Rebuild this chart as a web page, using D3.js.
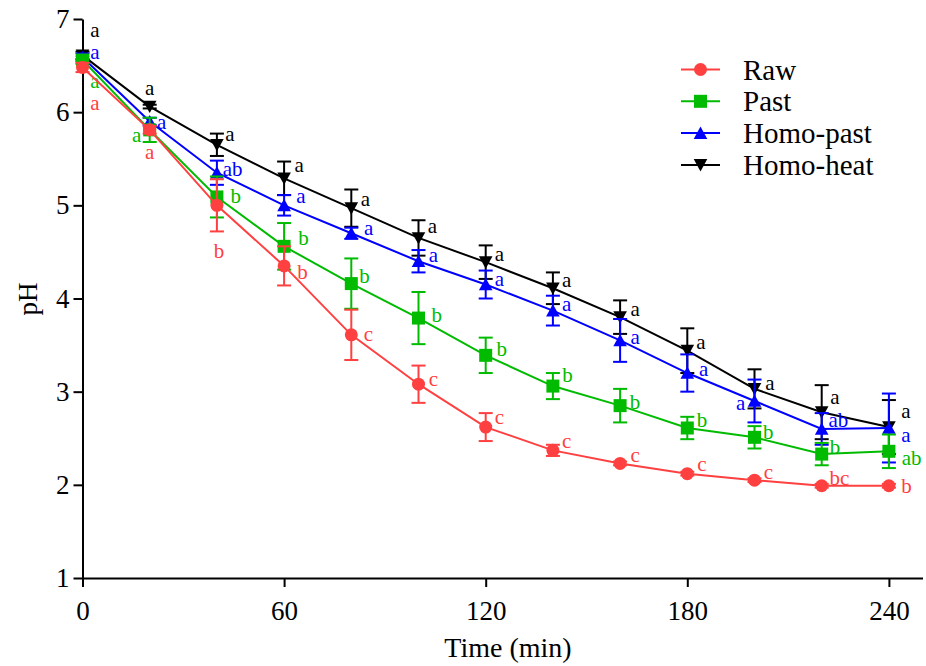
<!DOCTYPE html>
<html>
<head>
<meta charset="utf-8">
<script src="https://cdn.jsdelivr.net/npm/d3@7"></script>
<style>
  body { margin: 0; background: #fff; }
  svg { display: block; }
  text { font-family: "Liberation Serif", "Times New Roman", serif; }
</style>
</head>
<body>
<svg id="chart" width="926" height="666"></svg>
<script>
// Sampling times (min)
const times = [0, 20, 40, 60, 80, 100, 120, 140, 160, 180, 200, 220, 240];

// pH means, standard deviations and significance letters per treatment
const rawMean = [6.48, 5.81, 5.00, 4.35, 3.61, 3.08, 2.62, 2.37, 2.23, 2.12, 2.05, 1.99, 1.99];
const rawSd = [0.05, 0.04, 0.28, 0.21, 0.27, 0.20, 0.15, 0.06, 0.02, 0.02, 0.02, 0.02, 0.02];
const rawLetters = ["a", "a", "b", "b", "c", "c", "c", "c", "c", "c", "c", "bc", "b"];

const pastMean = [6.56, 5.81, 5.09, 4.56, 4.16, 3.79, 3.39, 3.06, 2.85, 2.61, 2.51, 2.33, 2.36];
const pastSd = [0.04, 0.13, 0.22, 0.25, 0.27, 0.28, 0.19, 0.14, 0.18, 0.12, 0.12, 0.12, 0.18];
const pastLetters = ["a", "a", "b", "b", "b", "b", "b", "b", "b", "b", "b", "b", "ab"];

const homoPastMean = [6.59, 5.90, 5.35, 5.00, 4.70, 4.40, 4.15, 3.87, 3.55, 3.20, 2.90, 2.60, 2.61];
const homoPastSd = [0.04, 0.04, 0.13, 0.11, 0.06, 0.12, 0.15, 0.16, 0.23, 0.20, 0.23, 0.17, 0.37];
const homoPastLetters = ["a", "a", "ab", "a", "a", "a", "a", "a", "a", "a", "a", "ab", "a"];

const homoHeatMean = [6.61, 6.06, 5.65, 5.29, 4.97, 4.65, 4.39, 4.11, 3.80, 3.44, 3.03, 2.78, 2.62];
const homoHeatSd = [0.04, 0.02, 0.12, 0.18, 0.20, 0.19, 0.18, 0.17, 0.18, 0.24, 0.21, 0.29, 0.29];
const homoHeatLetters = ["a", "a", "a", "a", "a", "a", "a", "a", "a", "a", "a", "a", "a"];

const seriesNames = ["Raw", "Past", "Homo-past", "Homo-heat"];
const xTicks = [0, 60, 120, 180, 240];
const yTicks = [1, 2, 3, 4, 5, 6, 7];

// Letter placement: offset of each letter's centre from its marker (px)
const letterOffsets = {
  "Raw": [[12.5, 38], [0, 24], [2, 46], [18.5, 5.7], [17, 1], [15, -3.3], [13.6, -7.7], [13.7, -7.3], [15, -6], [14.7, -7.3], [13.8, -6], [17.6, -7.7], [17.7, 0.7]],
  "Past": [[12.5, 23], [-13, 7], [18.8, -0.6], [19.3, -8.7], [13.3, -7.3], [18.2, -2.7], [16, -6.7], [14.7, -10.7], [15, -4], [14.7, -7.6], [13.8, -5], [13.3, -6.7], [22.7, 7]],
  "Homo-past": [[12.5, -3], [12, 3], [15.8, -3.3], [16.7, -7.7], [17.3, -3.3], [14.8, -4.4], [13.6, -3.3], [13.7, -4.7], [15, -1.7], [16.3, -1.6], [-13.8, 4.3], [16.6, -8.6], [17, 9]],
  "Homo-heat": [[12.5, -23], [0, -17], [13, -9], [15, -11], [14, -7.6], [14, -10], [13.6, -5.7], [13.7, -6.6], [15, -6], [13.7, -6.7], [15.5, -4.3], [13.3, -13.4], [17, -14.5]]
};

const series = [
  { name: "Raw", mean: rawMean, sd: rawSd, letters: rawLetters, color: "#FF4040", shape: "circle" },
  { name: "Past", mean: pastMean, sd: pastSd, letters: pastLetters, color: "#00BB00", shape: "square" },
  { name: "Homo-past", mean: homoPastMean, sd: homoPastSd, letters: homoPastLetters, color: "#0000FF", shape: "triUp" },
  { name: "Homo-heat", mean: homoHeatMean, sd: homoHeatSd, letters: homoHeatLetters, color: "#000000", shape: "triDown" }
];

const serif = '"Liberation Serif", "Times New Roman", serif';
const svg = d3.select("#chart");

const x = d3.scaleLinear().domain([0, 250]).range([82.5, 922.5]);
const y = d3.scaleLinear().domain([1, 7]).range([578, 19]);

const shapePath = {
  circle: d3.symbol(d3.symbolCircle, Math.PI * 6.5 * 6.5)(),
  square: "M-6.5,-6.5h13v13h-13Z",
  triUp: "M0,-6.5L6.8,5.8L-6.8,5.8Z",
  triDown: "M0,6.5L6.8,-5.8L-6.8,-5.8Z"
};

// Axes
const xAxis = d3.axisBottom(x).tickValues(xTicks).tickFormat(d3.format("d"))
  .tickSize(9).tickSizeOuter(0).tickPadding(14);
const yAxis = d3.axisLeft(y).tickValues(yTicks).tickFormat(d3.format("d"))
  .tickSize(9).tickSizeOuter(0).tickPadding(4);

const gx = svg.append("g").attr("transform", "translate(0,578)").call(xAxis);
const gy = svg.append("g").attr("transform", "translate(82.5,0)").call(yAxis);

[gx, gy].forEach(g => {
  g.attr("font-family", serif).attr("font-size", 27);
  g.select(".domain").attr("stroke", "#000").attr("stroke-width", 2);
  g.selectAll(".tick line").attr("stroke", "#000").attr("stroke-width", 2);
  g.selectAll(".tick text").attr("fill", "#000");
});

svg.append("text")
  .attr("x", 508).attr("y", 657)
  .attr("text-anchor", "middle")
  .attr("font-family", serif)
  .style("font-size", "28px")
  .text("Time (min)");

svg.append("text")
  .attr("transform", "translate(37,299) rotate(-90)")
  .attr("text-anchor", "middle")
  .attr("font-family", serif)
  .style("font-size", "27px")
  .text("pH");

// Series: drawn back to front so Raw sits on top
const plot = svg.append("g");
series.slice().reverse().forEach(s => {
  const g = plot.append("g");
  const pts = times.map((t, i) => ({ t, m: s.mean[i], sd: s.sd[i], letter: s.letters[i], off: letterOffsets[s.name][i] }));

  // error bars
  const eb = g.selectAll(".eb").data(pts).enter().append("g")
    .attr("stroke", s.color).attr("stroke-width", 2).attr("fill", "none");
  eb.append("line")
    .attr("x1", d => x(d.t)).attr("x2", d => x(d.t))
    .attr("y1", d => y(d.m + d.sd)).attr("y2", d => y(d.m - d.sd));
  eb.append("line")
    .attr("x1", d => x(d.t) - 7).attr("x2", d => x(d.t) + 7)
    .attr("y1", d => y(d.m + d.sd)).attr("y2", d => y(d.m + d.sd));
  eb.append("line")
    .attr("x1", d => x(d.t) - 7).attr("x2", d => x(d.t) + 7)
    .attr("y1", d => y(d.m - d.sd)).attr("y2", d => y(d.m - d.sd));

  // connecting line
  g.append("path")
    .datum(pts)
    .attr("fill", "none")
    .attr("stroke", s.color)
    .attr("stroke-width", 2)
    .attr("d", d3.line().x(d => x(d.t)).y(d => y(d.m)));

  // markers
  g.selectAll(".mk").data(pts).enter().append("path")
    .attr("d", shapePath[s.shape])
    .attr("fill", s.color)
    .attr("transform", d => `translate(${x(d.t)},${y(d.m)})`);

  // significance letters
  g.selectAll(".lt").data(pts).enter().append("text")
    .attr("x", d => x(d.t) + d.off[0])
    .attr("y", d => y(d.m) + d.off[1] + (d.letter.includes("b") ? 7 : 5))
    .attr("text-anchor", "middle")
    .attr("fill", s.color)
    .style("font-size", "21px")
    .text(d => d.letter);
});

// Legend
const legend = svg.append("g");
series.forEach((s, i) => {
  const ly = 69.5 + i * 31.8;
  legend.append("line")
    .attr("x1", 681).attr("x2", 720).attr("y1", ly).attr("y2", ly)
    .attr("stroke", s.color).attr("stroke-width", 2);
  legend.append("path")
    .attr("d", shapePath[s.shape])
    .attr("fill", s.color)
    .attr("transform", `translate(700.5,${ly})`);
  legend.append("text")
    .attr("x", 743).attr("y", ly + 10)
    .style("font-size", "29px")
    .attr("fill", "#000")
    .text(seriesNames[i]);
});
</script>
</body>
</html>
